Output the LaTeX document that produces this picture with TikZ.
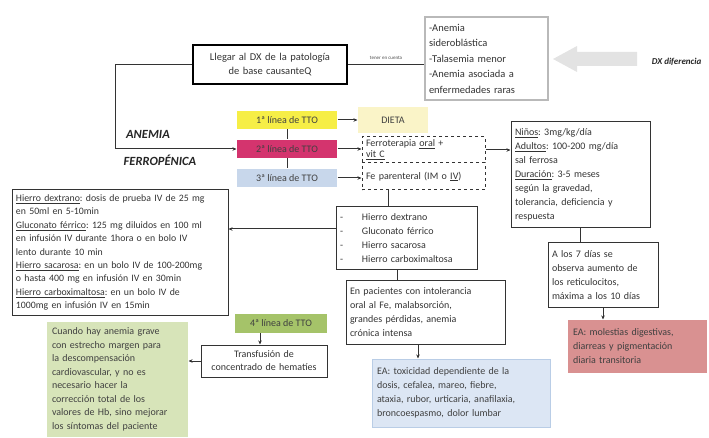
\documentclass[tikz,border=0pt]{standalone}
\usepackage{fontspec}
\setmainfont{Carlito}
\usetikzlibrary{arrows.meta}

\definecolor{amarilloTTO}{RGB}{246,238,70}
\definecolor{magentaTTO}{RGB}{212,52,110}
\definecolor{azulTTO}{RGB}{200,215,235}
\definecolor{verdeTTO}{RGB}{165,195,105}
\definecolor{dietaFondo}{RGB}{250,244,200}
\definecolor{verdeFondo}{RGB}{215,228,185}
\definecolor{rojoFondo}{RGB}{217,145,145}
\definecolor{azulFondo}{RGB}{220,230,244}
\definecolor{azulBorde}{RGB}{185,205,230}

\tikzset{
  caja/.style={draw=black!80, line width=1pt, inner xsep=4pt, inner ysep=1pt,
    align=left, text=black!80, font=\fontsize{10}{14}\selectfont},
  tto/.style={minimum width=100pt, minimum height=18pt, inner sep=0pt,
    text=black!75, font=\fontsize{10}{12}\selectfont},
  fondo/.style={inner xsep=5pt, inner ysep=1pt, align=left, text=black!75,
    font=\fontsize{10}{14}\selectfont},
  titulo/.style={font=\fontsize{12.5}{14}\selectfont\bfseries\itshape, text=black!85}
}

\begin{document}
\frenchspacing
\begin{tikzpicture}[x=1pt, y=-1pt, >={Stealth[length=4pt,width=3.5pt]}, line width=1pt, draw=black!80]

  \useasboundingbox (0,0) rectangle (709,438);

  % ==================== 1. Diagnóstico de base ====================
  \node[caja, line width=1.8pt, draw=black, align=center, text width=146pt, minimum height=39pt,
    font=\fontsize{10.5}{14}\selectfont] (dx) at (270,64.5)
    {Llegar al DX de la patología\\de base causanteQ};
  \node[caja, draw=gray!55, line width=1.6pt, text width=115pt, minimum height=83pt,
    font=\fontsize{10.5}{15.5}\selectfont] (difer) at (486.5,58.5)
    {-Anemia\\sideroblástica\\-Talasemia menor\\-Anemia asociada a\\enfermedades raras};
  \draw (dx.east) -- (dx.east -| difer.west)
    node[midway, above=1pt, font=\fontsize{5}{6}\selectfont, text=black!70] (tener) {tener en cuenta};

  % flecha gris del DX diferencial
  \fill[gray!22] (553,59) -- (577,46) -- (577,52) -- (637,52) -- (637,66) -- (577,66) -- (577,72) -- cycle;
  \node[anchor=west, font=\fontsize{9}{10}\selectfont\bfseries\itshape, text=black!85] (dxdif) at (648,62) {DX diferencia};

  % ==================== 2. Anemia ferropénica y líneas de TTO ====================
  \node[titulo] (anemia) at (148,134) {ANEMIA};
  \node[titulo] (ferro) at (160,160) {FERROPÉNICA};

  \node[tto, fill=amarilloTTO] (l1) at (287,120) {1ª línea de TTO};
  \node[tto, fill=magentaTTO] (l2) at (287,149) {2ª línea de TTO};
  \node[tto, fill=azulTTO] (l3) at (287,178) {3ª línea de TTO};
  \draw (l1.south) -- (l2.north);
  \draw (l2.south) -- (l3.north);

  \draw[->] (dx.west) -- (dx.west -| 115,0) |- (l2.west);

  % ==================== 3. Tratamientos ====================
  \node[fondo, fill=dietaFondo, minimum width=70pt, minimum height=26pt, align=center] (dieta) at (393,120) {DIETA};
  \node[caja, dashed, text width=115pt, minimum height=26pt, inner ysep=0pt,
    font=\fontsize{10}{11}\selectfont] (oral) at (423.5,150)
    {Ferroterapia \underline{oral} +\\\underline{vit C}};
  \node[caja, dashed, text width=115pt, minimum height=27pt] (fe) at (423.5,176.5)
    {Fe parenteral (IM o \underline{IV})};
  \draw[->] (l1.east) -- (dieta.west);
  \draw[->] (l2.east) -- (l2.east -| oral.west);
  \draw[->] (l3.east) -- (l3.east -| fe.west);

  % ==================== 4. Vía oral ====================
  \node[caja, text width=131pt, minimum height=106pt] (dosis) at (580.5,175)
    {\underline{Niños}: 3mg/kg/día\\\underline{Adultos}: 100-200 mg/día\\sal ferrosa\\
     \underline{Duración}: 3-5 meses\\según la gravedad,\\tolerancia, deficiencia y\\respuesta};
  \node[caja, text width=102pt, minimum height=64pt] (reticul) at (603,275)
    {A los 7 días se\\observa aumento de\\los reticulocitos,\\máxima a los 10 días};
  \node[fondo, fill=rojoFondo, text width=129pt, minimum height=53pt] (ea1) at (637.5,346.5)
    {EA: molestias digestivas,\\diarreas y pigmentación\\diaria transitoria};
  \draw[->] (oral.east) -- (oral.east -| dosis.west);
  \draw (dosis.south) -- (dosis.south |- reticul.north);
  \draw[->] (reticul.south) -- (reticul.south |- ea1.north);

  % ==================== 5. Vía parenteral ====================
  \node[caja, text width=133pt, minimum height=63pt] (lista) at (406.5,238.5)
    {\makebox[22pt][l]{-}Hierro dextrano\\\makebox[22pt][l]{-}Gluconato férrico\\
     \makebox[22pt][l]{-}Hierro sacarosa\\\makebox[22pt][l]{-}Hierro carboximaltosa};
  \node[caja, text width=208pt, minimum height=125pt, font=\fontsize{9.8}{13.4}\selectfont] (dosisiv) at (120,252.5)
    {\underline{Hierro dextrano}: dosis de prueba IV de 25 mg\\en 50ml en 5-10min\\
     \underline{Gluconato férrico}: 125 mg diluidos en 100 ml\\en infusión IV durante 1hora o en bolo IV\\
     lento durante 10 min\\\underline{Hierro sacarosa}: en un bolo IV de 100-200mg\\
     o hasta 400 mg en infusión IV en 30min\\\underline{Hierro carboximaltosa}: en un bolo IV de\\
     1000mg en infusión IV en 15min};
  \node[caja, text width=151pt, minimum height=64pt] (pacientes) at (425.5,312)
    {En pacientes con intolerancia\\oral al Fe, malabsorción,\\grandes pérdidas, anemia\\crónica intensa};
  \node[fondo, fill=azulFondo, draw=azulBorde, line width=1pt, text width=168pt, minimum height=68pt] (ea2) at (461,393)
    {EA: toxicidad dependiente de la\\dosis, cefalea, mareo, fiebre,\\ataxia, rubor, urticaria, anafilaxia,\\broncoespasmo, dolor lumbar};
  \draw ([xshift=-35pt]fe.south) -- ([xshift=-35pt]fe.south |- lista.north);
  \draw[->] ([yshift=9.5pt]lista.west) -- ([yshift=9.5pt]lista.west -| dosisiv.east);
  \draw ([xshift=-9pt]lista.south) -- ([xshift=-9pt]lista.south |- pacientes.north);
  \draw[->] ([xshift=-7.5pt]pacientes.south) -- ([xshift=-7.5pt]pacientes.south |- ea2.north);

  % ==================== 6. Cuarta línea ====================
  \node[tto, fill=verdeTTO, minimum width=92pt, minimum height=19pt] (l4) at (281,323) {4ª línea de TTO};
  \node[caja, align=center, text width=118pt, minimum height=32pt, font=\fontsize{10}{13}\selectfont] (transf) at (264,361)
    {Transfusión de\\concentrado de hematíes};
  \node[fondo, fill=verdeFondo, text width=131pt, minimum height=115pt, font=\fontsize{10}{13.5}\selectfont] (grave) at (117.5,379.5)
    {Cuando hay anemia grave\\con estrecho margen para\\la descompensación\\cardiovascular, y no es\\
     necesario hacer la\\corrección total de los\\valores de Hb, sino mejorar\\los síntomas del paciente};
  \draw[->] ([xshift=-21pt]l4.south) -- ([xshift=-21pt]l4.south |- transf.north);
  \draw[->] (transf.west) -- (transf.west -| grave.east);

\end{tikzpicture}
\end{document}
